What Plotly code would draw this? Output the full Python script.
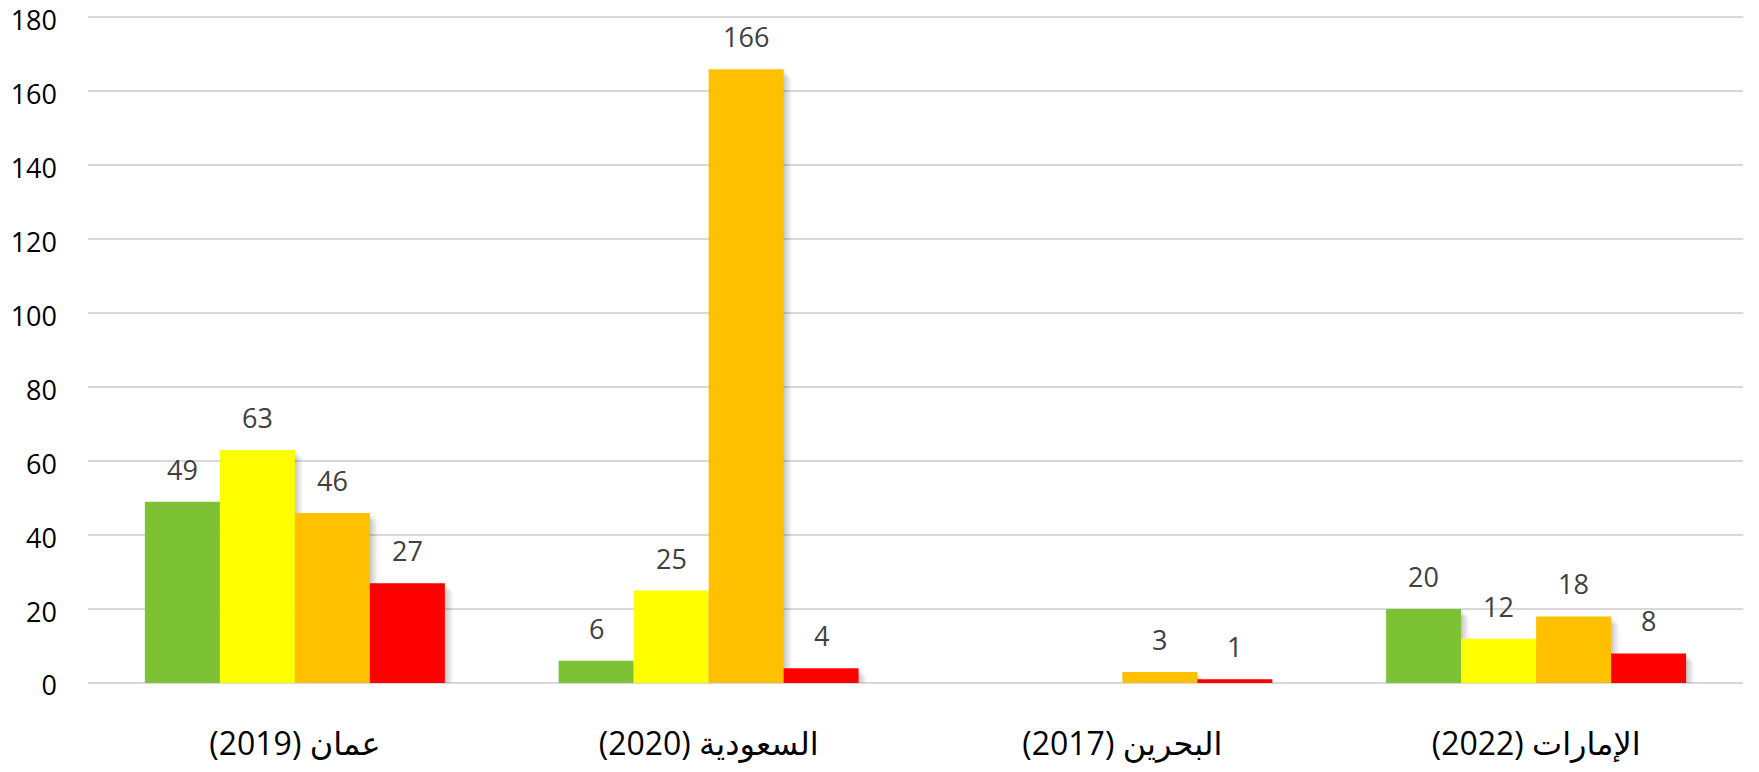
import plotly.graph_objects as go

categories = ["عمان (2019)", "السعودية (2020)", "البحرين (2017)", "الإمارات (2022)"]
series_green = [49, 6, None, 20]
series_yellow = [63, 25, None, 12]
series_orange = [46, 166, 3, 18]
series_red = [27, 4, 1, 8]
colors = ["#7DC134", "#FFFF00", "#FFC000", "#FF0000"]
y_ticks = [0, 20, 40, 60, 80, 100, 120, 140, 160, 180]

series = [series_green, series_yellow, series_orange, series_red]
labels = ["\u202B" + c + "\u202C" for c in categories]
idx = list(range(len(categories)))

W, H = 1759, 772
ML, MR, MT, MB = 88, 16, 16, 89
YMAX = 180.4
BARGAP = 0.275
px_x = (W - ML - MR) / len(categories)   # px per x unit
px_y = (H - MT - MB) / YMAX              # px per y unit

n = len(series)
bw = (1 - BARGAP) / n
offsets = [-(1 - BARGAP) / 2 + k * bw for k in range(n)]

fig = go.Figure()
# soft drop shadows (layered), drawn first
for dx, dy, op in [(2, 1, 0.06), (4, 2, 0.06), (6, 3, 0.05), (8, 4, 0.04)]:
    for k, s in enumerate(series):
        fig.add_trace(go.Bar(x=idx, y=[None if v is None else max(v - 2 * dy / px_y, 0.0) + dy / px_y for v in s],
                             base=-dy / px_y, offset=offsets[k] + dx / px_x, width=bw,
                             marker=dict(color=f"rgba(0,0,0,{op})", line=dict(width=0)),
                             showlegend=False, hoverinfo="skip"))

for k, (s, c) in enumerate(zip(series, colors)):
    fig.add_trace(go.Bar(x=idx, y=s, offset=offsets[k], width=bw,
                         marker=dict(color=c, line=dict(width=0)),
                         showlegend=False, hoverinfo="y"))

for k, s in enumerate(series):
    off = offsets[k] + bw / 2
    for i, v in enumerate(s):
        if v is None:
            continue
        fig.add_annotation(x=i + off, y=v, text=str(v), showarrow=False,
                           yanchor="bottom", yshift=12,
                           font=dict(family="Open Sans", size=27, color="#404040"))

fig.update_layout(
    width=W, height=H,
    margin=dict(l=ML, r=MR, t=MT, b=MB, autoexpand=False),
    paper_bgcolor="white", plot_bgcolor="white",
    barmode="overlay",
    font=dict(family="Open Sans, DejaVu Sans", color="#000000"),
)
fig.update_xaxes(tickmode="array", tickvals=idx, ticktext=labels,
                 tickfont=dict(family="Open Sans, DejaVu Sans", size=32, color="#000000"),
                 showgrid=False, zeroline=False, showline=False, ticks="",
                 ticklabelstandoff=39, range=[-0.5, 3.5], automargin=False)
fig.update_yaxes(range=[0, YMAX], tickvals=y_ticks, showgrid=True,
                 gridcolor="#D9D9D9", gridwidth=1.5, zeroline=True,
                 zerolinecolor="#D9D9D9", zerolinewidth=1.5,
                 tickfont=dict(family="Open Sans", size=27, color="#000000"),
                 ticks="", ticklabelstandoff=30, automargin=False,
                 ticklabeloverflow="allow", ticklabelshift=3)

fig.write_html("out.html", config={"displayModeBar": False},
               post_script="document.body.style.margin='0';")
